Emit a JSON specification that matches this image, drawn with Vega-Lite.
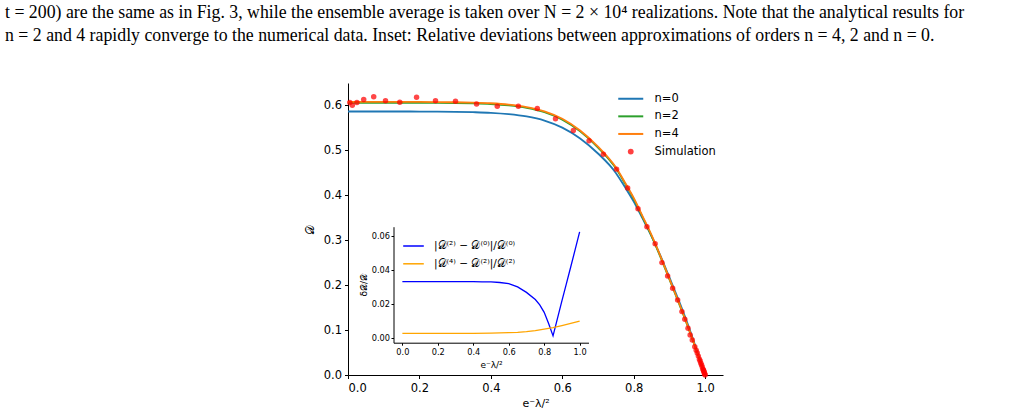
{
  "$schema": "https://vega.github.io/schema/vega-lite/v6.json",
  "autosize": "none",
  "width": 375,
  "height": 292,
  "padding": {"left": 348, "top": 83, "right": 306, "bottom": 40},
  "background": "white",
  "title": {
    "text": [
      "t = 200) are the same as in Fig. 3, while the ensemble average is taken over N = 2 × 10⁴ realizations. Note that the analytical results for",
      "n = 2 and 4 rapidly converge to the numerical data. Inset: Relative deviations between approximations of orders n = 4, 2 and n = 0."
    ],
    "anchor": "start",
    "frame": "group",
    "orient": "top",
    "align": "left",
    "dx": -343,
    "offset": 38,
    "font": "Liberation Serif",
    "fontSize": 17.8,
    "fontWeight": "normal",
    "color": "#000000",
    "lineHeight": 23
  },
  "config": {
    "view": {"stroke": null},
    "axis": {
      "grid": false,
      "domainColor": "#000000",
      "domainWidth": 1,
      "tickColor": "#000000",
      "tickWidth": 1,
      "labelColor": "#000000",
      "titleColor": "#000000",
      "labelFont": "DejaVu Sans",
      "titleFont": "DejaVu Sans",
      "titleFontWeight": "normal"
    },
    "legend": {
      "labelFont": "DejaVu Sans",
      "labelColor": "#000000",
      "padding": 0,
      "title": null
    }
  },
  "datasets": {
    "curves": [
      {"x": 0.00, "D": 0.5862, "series": "n=0"},
      {"x": 0.05, "D": 0.5862, "series": "n=0"},
      {"x": 0.10, "D": 0.5862, "series": "n=0"},
      {"x": 0.15, "D": 0.5862, "series": "n=0"},
      {"x": 0.20, "D": 0.5861, "series": "n=0"},
      {"x": 0.25, "D": 0.5859, "series": "n=0"},
      {"x": 0.30, "D": 0.5855, "series": "n=0"},
      {"x": 0.35, "D": 0.5847, "series": "n=0"},
      {"x": 0.40, "D": 0.5833, "series": "n=0"},
      {"x": 0.45, "D": 0.5803, "series": "n=0"},
      {"x": 0.50, "D": 0.5751, "series": "n=0"},
      {"x": 0.55, "D": 0.5660, "series": "n=0"},
      {"x": 0.60, "D": 0.5503, "series": "n=0"},
      {"x": 0.65, "D": 0.5262, "series": "n=0"},
      {"x": 0.70, "D": 0.4928, "series": "n=0"},
      {"x": 0.75, "D": 0.4496, "series": "n=0"},
      {"x": 0.775, "D": 0.4186, "series": "n=0"},
      {"x": 0.80, "D": 0.3859, "series": "n=0"},
      {"x": 0.825, "D": 0.3478, "series": "n=0"},
      {"x": 0.85, "D": 0.3086, "series": "n=0"},
      {"x": 0.875, "D": 0.2653, "series": "n=0"},
      {"x": 0.90, "D": 0.2171, "series": "n=0"},
      {"x": 0.925, "D": 0.1681, "series": "n=0"},
      {"x": 0.95, "D": 0.1159, "series": "n=0"},
      {"x": 0.975, "D": 0.0590, "series": "n=0"},
      {"x": 1.00, "D": 0.0, "series": "n=0"},
      {"x": 0.00, "D": 0.6057, "series": "n=2"},
      {"x": 0.05, "D": 0.6057, "series": "n=2"},
      {"x": 0.10, "D": 0.6057, "series": "n=2"},
      {"x": 0.15, "D": 0.6057, "series": "n=2"},
      {"x": 0.20, "D": 0.6056, "series": "n=2"},
      {"x": 0.25, "D": 0.6054, "series": "n=2"},
      {"x": 0.30, "D": 0.6050, "series": "n=2"},
      {"x": 0.35, "D": 0.6042, "series": "n=2"},
      {"x": 0.40, "D": 0.6027, "series": "n=2"},
      {"x": 0.45, "D": 0.5996, "series": "n=2"},
      {"x": 0.50, "D": 0.5941, "series": "n=2"},
      {"x": 0.55, "D": 0.5846, "series": "n=2"},
      {"x": 0.60, "D": 0.5680, "series": "n=2"},
      {"x": 0.65, "D": 0.5420, "series": "n=2"},
      {"x": 0.70, "D": 0.5060, "series": "n=2"},
      {"x": 0.75, "D": 0.4598, "series": "n=2"},
      {"x": 0.775, "D": 0.4268, "series": "n=2"},
      {"x": 0.80, "D": 0.3918, "series": "n=2"},
      {"x": 0.825, "D": 0.3509, "series": "n=2"},
      {"x": 0.85, "D": 0.3091, "series": "n=2"},
      {"x": 0.875, "D": 0.2622, "series": "n=2"},
      {"x": 0.90, "D": 0.2124, "series": "n=2"},
      {"x": 0.925, "D": 0.1627, "series": "n=2"},
      {"x": 0.95, "D": 0.1110, "series": "n=2"},
      {"x": 0.975, "D": 0.0560, "series": "n=2"},
      {"x": 1.00, "D": 0.0, "series": "n=2"},
      {"x": 0.00, "D": 0.6075, "series": "n=4"},
      {"x": 0.05, "D": 0.6075, "series": "n=4"},
      {"x": 0.10, "D": 0.6075, "series": "n=4"},
      {"x": 0.15, "D": 0.6075, "series": "n=4"},
      {"x": 0.20, "D": 0.6074, "series": "n=4"},
      {"x": 0.25, "D": 0.6072, "series": "n=4"},
      {"x": 0.30, "D": 0.6068, "series": "n=4"},
      {"x": 0.35, "D": 0.6060, "series": "n=4"},
      {"x": 0.40, "D": 0.6045, "series": "n=4"},
      {"x": 0.45, "D": 0.6015, "series": "n=4"},
      {"x": 0.50, "D": 0.5960, "series": "n=4"},
      {"x": 0.55, "D": 0.5865, "series": "n=4"},
      {"x": 0.60, "D": 0.5700, "series": "n=4"},
      {"x": 0.65, "D": 0.5440, "series": "n=4"},
      {"x": 0.70, "D": 0.5080, "series": "n=4"},
      {"x": 0.75, "D": 0.4620, "series": "n=4"},
      {"x": 0.775, "D": 0.4290, "series": "n=4"},
      {"x": 0.80, "D": 0.3940, "series": "n=4"},
      {"x": 0.825, "D": 0.3530, "series": "n=4"},
      {"x": 0.85, "D": 0.3110, "series": "n=4"},
      {"x": 0.875, "D": 0.2640, "series": "n=4"},
      {"x": 0.90, "D": 0.2140, "series": "n=4"},
      {"x": 0.925, "D": 0.1640, "series": "n=4"},
      {"x": 0.95, "D": 0.1120, "series": "n=4"},
      {"x": 0.975, "D": 0.0565, "series": "n=4"},
      {"x": 1.00, "D": 0.0, "series": "n=4"}
    ],
    "sim": [
      {"x": 0.005, "D": 0.606}, {"x": 0.012, "D": 0.600}, {"x": 0.025, "D": 0.606},
      {"x": 0.044, "D": 0.613}, {"x": 0.072, "D": 0.619}, {"x": 0.105, "D": 0.610},
      {"x": 0.145, "D": 0.607}, {"x": 0.192, "D": 0.618}, {"x": 0.245, "D": 0.610},
      {"x": 0.301, "D": 0.609}, {"x": 0.360, "D": 0.603}, {"x": 0.418, "D": 0.598},
      {"x": 0.477, "D": 0.598}, {"x": 0.530, "D": 0.593}, {"x": 0.581, "D": 0.570},
      {"x": 0.631, "D": 0.544}, {"x": 0.675, "D": 0.521}, {"x": 0.715, "D": 0.491},
      {"x": 0.752, "D": 0.458}, {"x": 0.783, "D": 0.416}, {"x": 0.812, "D": 0.370},
      {"x": 0.837, "D": 0.330}, {"x": 0.860, "D": 0.292}, {"x": 0.879, "D": 0.250},
      {"x": 0.895, "D": 0.220}, {"x": 0.909, "D": 0.193}, {"x": 0.923, "D": 0.167},
      {"x": 0.935, "D": 0.141}, {"x": 0.943, "D": 0.124}, {"x": 0.952, "D": 0.104},
      {"x": 0.958, "D": 0.089}, {"x": 0.964, "D": 0.078}, {"x": 0.971, "D": 0.063},
      {"x": 0.975, "D": 0.055}, {"x": 0.978, "D": 0.049}, {"x": 0.981, "D": 0.042},
      {"x": 0.984, "D": 0.035}, {"x": 0.986, "D": 0.031}, {"x": 0.988, "D": 0.026},
      {"x": 0.990, "D": 0.022}, {"x": 0.992, "D": 0.018}, {"x": 0.994, "D": 0.013},
      {"x": 0.995, "D": 0.011}, {"x": 0.996, "D": 0.009}, {"x": 0.997, "D": 0.007},
      {"x": 0.998, "D": 0.004}, {"x": 0.999, "D": 0.002}, {"x": 1.000, "D": 0.000}
    ],
    "inset": [
      {"x": 0.00, "dev": 0.0333, "series": "|𝒟⁽²⁾ − 𝒟⁽⁰⁾|/𝒟⁽⁰⁾"},
      {"x": 0.10, "dev": 0.0333, "series": "|𝒟⁽²⁾ − 𝒟⁽⁰⁾|/𝒟⁽⁰⁾"},
      {"x": 0.20, "dev": 0.0333, "series": "|𝒟⁽²⁾ − 𝒟⁽⁰⁾|/𝒟⁽⁰⁾"},
      {"x": 0.30, "dev": 0.0333, "series": "|𝒟⁽²⁾ − 𝒟⁽⁰⁾|/𝒟⁽⁰⁾"},
      {"x": 0.40, "dev": 0.0333, "series": "|𝒟⁽²⁾ − 𝒟⁽⁰⁾|/𝒟⁽⁰⁾"},
      {"x": 0.45, "dev": 0.0332, "series": "|𝒟⁽²⁾ − 𝒟⁽⁰⁾|/𝒟⁽⁰⁾"},
      {"x": 0.50, "dev": 0.0331, "series": "|𝒟⁽²⁾ − 𝒟⁽⁰⁾|/𝒟⁽⁰⁾"},
      {"x": 0.55, "dev": 0.0328, "series": "|𝒟⁽²⁾ − 𝒟⁽⁰⁾|/𝒟⁽⁰⁾"},
      {"x": 0.60, "dev": 0.0321, "series": "|𝒟⁽²⁾ − 𝒟⁽⁰⁾|/𝒟⁽⁰⁾"},
      {"x": 0.65, "dev": 0.0302, "series": "|𝒟⁽²⁾ − 𝒟⁽⁰⁾|/𝒟⁽⁰⁾"},
      {"x": 0.70, "dev": 0.0270, "series": "|𝒟⁽²⁾ − 𝒟⁽⁰⁾|/𝒟⁽⁰⁾"},
      {"x": 0.75, "dev": 0.0228, "series": "|𝒟⁽²⁾ − 𝒟⁽⁰⁾|/𝒟⁽⁰⁾"},
      {"x": 0.775, "dev": 0.0197, "series": "|𝒟⁽²⁾ − 𝒟⁽⁰⁾|/𝒟⁽⁰⁾"},
      {"x": 0.80, "dev": 0.0153, "series": "|𝒟⁽²⁾ − 𝒟⁽⁰⁾|/𝒟⁽⁰⁾"},
      {"x": 0.825, "dev": 0.0088, "series": "|𝒟⁽²⁾ − 𝒟⁽⁰⁾|/𝒟⁽⁰⁾"},
      {"x": 0.85, "dev": 0.0015, "series": "|𝒟⁽²⁾ − 𝒟⁽⁰⁾|/𝒟⁽⁰⁾"},
      {"x": 0.875, "dev": 0.0118, "series": "|𝒟⁽²⁾ − 𝒟⁽⁰⁾|/𝒟⁽⁰⁾"},
      {"x": 0.90, "dev": 0.0220, "series": "|𝒟⁽²⁾ − 𝒟⁽⁰⁾|/𝒟⁽⁰⁾"},
      {"x": 0.925, "dev": 0.0320, "series": "|𝒟⁽²⁾ − 𝒟⁽⁰⁾|/𝒟⁽⁰⁾"},
      {"x": 0.95, "dev": 0.0420, "series": "|𝒟⁽²⁾ − 𝒟⁽⁰⁾|/𝒟⁽⁰⁾"},
      {"x": 0.975, "dev": 0.0522, "series": "|𝒟⁽²⁾ − 𝒟⁽⁰⁾|/𝒟⁽⁰⁾"},
      {"x": 1.00, "dev": 0.0625, "series": "|𝒟⁽²⁾ − 𝒟⁽⁰⁾|/𝒟⁽⁰⁾"},
      {"x": 0.00, "dev": 0.0030, "series": "|𝒟⁽⁴⁾ − 𝒟⁽²⁾|/𝒟⁽²⁾"},
      {"x": 0.40, "dev": 0.0030, "series": "|𝒟⁽⁴⁾ − 𝒟⁽²⁾|/𝒟⁽²⁾"},
      {"x": 0.50, "dev": 0.0031, "series": "|𝒟⁽⁴⁾ − 𝒟⁽²⁾|/𝒟⁽²⁾"},
      {"x": 0.60, "dev": 0.0034, "series": "|𝒟⁽⁴⁾ − 𝒟⁽²⁾|/𝒟⁽²⁾"},
      {"x": 0.65, "dev": 0.0036, "series": "|𝒟⁽⁴⁾ − 𝒟⁽²⁾|/𝒟⁽²⁾"},
      {"x": 0.70, "dev": 0.0040, "series": "|𝒟⁽⁴⁾ − 𝒟⁽²⁾|/𝒟⁽²⁾"},
      {"x": 0.75, "dev": 0.0046, "series": "|𝒟⁽⁴⁾ − 𝒟⁽²⁾|/𝒟⁽²⁾"},
      {"x": 0.80, "dev": 0.0054, "series": "|𝒟⁽⁴⁾ − 𝒟⁽²⁾|/𝒟⁽²⁾"},
      {"x": 0.85, "dev": 0.0063, "series": "|𝒟⁽⁴⁾ − 𝒟⁽²⁾|/𝒟⁽²⁾"},
      {"x": 0.90, "dev": 0.0075, "series": "|𝒟⁽⁴⁾ − 𝒟⁽²⁾|/𝒟⁽²⁾"},
      {"x": 0.95, "dev": 0.0088, "series": "|𝒟⁽⁴⁾ − 𝒟⁽²⁾|/𝒟⁽²⁾"},
      {"x": 1.00, "dev": 0.0102, "series": "|𝒟⁽⁴⁾ − 𝒟⁽²⁾|/𝒟⁽²⁾"}
    ]
  },
  "layer": [
    {
      "encoding": {
        "x": {
          "field": "x", "type": "quantitative",
          "scale": {"domain": [0, 1.05], "nice": false, "zero": false},
          "axis": {
            "orient": "bottom",
            "values": [0, 0.2, 0.4, 0.6, 0.8, 1.0],
            "format": ".1f",
            "labelFontSize": 11.5,
            "tickSize": 3.5,
            "labelPadding": 4,
            "title": "e⁻λ/²",
            "titleFontSize": 11,
            "titlePadding": 3
          }
        },
        "y": {
          "field": "D", "type": "quantitative",
          "scale": {"domain": [0, 0.6496], "nice": false, "zero": false},
          "axis": {
            "orient": "left",
            "values": [0, 0.1, 0.2, 0.3, 0.4, 0.5, 0.6],
            "format": ".1f",
            "labelFontSize": 11.5,
            "tickSize": 3.5,
            "labelPadding": 3,
            "title": "𝒟",
            "titleFontSize": 12,
            "titlePadding": 7
          }
        },
        "color": {
          "field": "series", "type": "nominal",
          "scale": {"domain": ["n=0", "n=2", "n=4", "Simulation"], "range": ["#1f77b4", "#2ca02c", "#ff7f0e", "#ff0000"]},
          "legend": {
            "orient": "none",
            "legendX": 277,
            "legendY": 10,
            "direction": "vertical",
            "symbolType": "stroke",
            "symbolSize": 100,
            "symbolStrokeWidth": 2,
            "labelFontSize": 11.5,
            "labelOffset": 18,
            "rowPadding": 4.6,
            "encode": {
              "symbols": {
                "update": {
                  "shape": {"signal": "datum.value === 'Simulation' ? 'circle' : 'stroke'"},
                  "size": {"signal": "datum.value === 'Simulation' ? 34 : 625"},
                  "fill": {"signal": "datum.value === 'Simulation' ? '#ff0000' : 'transparent'"},
                  "fillOpacity": {"signal": "datum.value === 'Simulation' ? 0.75 : 1"},
                  "opacity": {"value": 1},
                  "stroke": {"signal": "datum.value === 'n=0' ? '#1f77b4' : datum.value === 'n=2' ? '#2ca02c' : datum.value === 'n=4' ? '#ff7f0e' : 'transparent'"},
                  "strokeWidth": {"signal": "datum.value === 'Simulation' ? 0 : 2"}
                }
              }
            }
          }
        }
      },
      "layer": [
        {
          "data": {"name": "curves"},
          "mark": {"type": "line", "strokeWidth": 1.8, "interpolate": "monotone"}
        },
        {
          "data": {"name": "sim"},
          "transform": [{"calculate": "'Simulation'", "as": "series"}],
          "mark": {"type": "point", "filled": true, "size": 30, "opacity": 0.72, "strokeWidth": 0}
        }
      ]
    },
    {
      "data": {"name": "inset"},
      "mark": {"type": "line", "strokeWidth": 1.3},
      "encoding": {
        "x": {
          "field": "x", "type": "quantitative",
          "scale": {"domain": [-0.05, 1.05], "range": [45.5, 240.5], "nice": false, "zero": false},
          "axis": {
            "orient": "bottom",
            "offset": -32.3,
            "values": [0, 0.2, 0.4, 0.6, 0.8, 1.0],
            "format": ".1f",
            "labelFontSize": 8.2,
            "tickSize": 2.5,
            "labelPadding": 3.5,
            "title": "e⁻λ/²",
            "titleFontSize": 9,
            "titlePadding": 5
          }
        },
        "y": {
          "field": "dev", "type": "quantitative",
          "scale": {"domain": [-0.0025, 0.0655], "range": [259.7, 143.7], "nice": false, "zero": false},
          "axis": {
            "orient": "left",
            "offset": -45.5,
            "values": [0, 0.02, 0.04, 0.06],
            "format": ".2f",
            "labelFontSize": 8.2,
            "tickSize": 2.5,
            "labelPadding": 1.5,
            "title": "δ𝒟/𝒟",
            "titleFontSize": 9,
            "titlePadding": 3
          }
        },
        "color": {
          "field": "series", "type": "nominal",
          "scale": {"domain": ["|𝒟⁽²⁾ − 𝒟⁽⁰⁾|/𝒟⁽⁰⁾", "|𝒟⁽⁴⁾ − 𝒟⁽²⁾|/𝒟⁽²⁾"], "range": ["#0000ff", "#ffa500"]},
          "legend": {
            "orient": "none",
            "legendX": 54,
            "legendY": 151.5,
            "direction": "vertical",
            "symbolType": "stroke",
            "symbolSize": 64,
            "symbolStrokeWidth": 1.5,
            "labelFontSize": 10.5,
            "labelOffset": 9,
            "rowPadding": 0.8,
            "encode": {
              "symbols": {"update": {"size": {"value": 424}}}
            }
          }
        }
      }
    }
  ],
  "resolve": {
    "scale": {"x": "independent", "y": "independent", "color": "independent"},
    "axis": {"x": "independent", "y": "independent"},
    "legend": {"color": "independent"}
  }
}
